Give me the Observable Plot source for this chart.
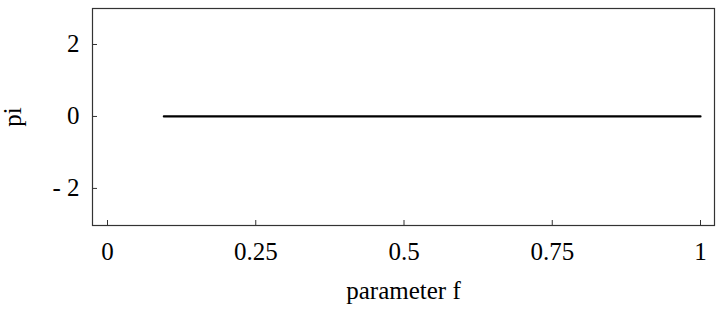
<!DOCTYPE html>
<html>
<head>
<meta charset="utf-8">
<script src="https://cdn.jsdelivr.net/npm/d3@7"></script>
<script src="https://cdn.jsdelivr.net/npm/@observablehq/plot@0.6"></script>
<style>
  html, body { margin: 0; padding: 0; background: white; }
</style>
</head>
<body>
<div id="chart"></div>
<script>
const f = [0.095, 1];
const pi = [0, 0];
const xTicks = [0, 0.25, 0.5, 0.75, 1];
const xTickLabels = ["0", "0.25", "0.5", "0.75", "1"];
const yTicks = [-2, 0, 2];
const yTickLabels = ["- 2", "0", "2"];

const data = f.map((v, i) => ({f: v, pi: pi[i]}));

const chart = Plot.plot({
  width: 716,
  height: 309,
  marginTop: 8,
  marginBottom: 84,
  marginLeft: 92,
  marginRight: 2,
  x: {domain: [-0.0253, 1.0236]},
  y: {domain: [-3.03, 3.0]},
  style: {
    fontFamily: "'Liberation Serif', 'Times New Roman', serif",
    fontSize: "25px",
    color: "black",
    background: "white"
  },
  marks: [
    Plot.frame({stroke: "#333", strokeWidth: 1.2}),
    Plot.axisX(xTicks, {
      tickSize: -5,
      tickPadding: 22,
      stroke: "#333",
      tickFormat: d => xTickLabels[xTicks.indexOf(d)],
      label: "parameter f",
      labelAnchor: "center",
      labelArrow: "none",
      labelOffset: 73
    }),
    Plot.axisY(yTicks, {
      tickSize: -5,
      tickPadding: 18,
      stroke: "#333",
      tickFormat: d => yTickLabels[yTicks.indexOf(d)],
      label: "pi",
      labelAnchor: "center",
      labelArrow: "none",
      labelOffset: 89
    }),
    Plot.line(data, {x: "f", y: "pi", stroke: "black", strokeWidth: 2.2})
  ]
});
document.getElementById("chart").appendChild(chart);
</script>
</body>
</html>
